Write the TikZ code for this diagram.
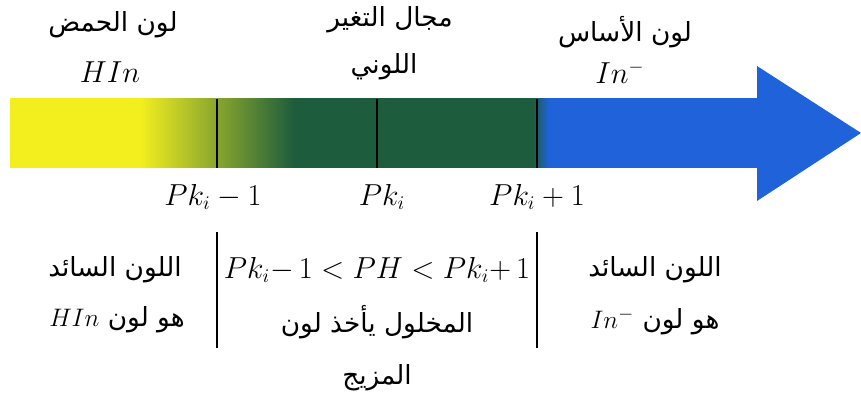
\documentclass[tikz,border=0pt]{standalone}
\usepackage{fontspec}
\usetikzlibrary{positioning}
\TeXXeTstate=1
\newfontfamily\arabicfont[Script=Arabic]{DejaVu Sans}
\definecolor{acidyellow}{HTML}{F3EF1F}
\definecolor{mixgreen}{HTML}{1D5C3C}
\definecolor{baseblue}{HTML}{1F62D9}
\newcommand{\artext}[1]{\beginR #1\endR}
% yellow -> green -> blue along the shaft (path fills 25bp..75bp)
\pgfdeclarehorizontalshading{indicator}{100bp}{
  color(0bp)=(acidyellow); color(33.7bp)=(acidyellow);
  color(44bp)=(mixgreen); color(59.9bp)=(mixgreen);
  color(61bp)=(baseblue); color(100bp)=(baseblue)}

\begin{document}
\begin{tikzpicture}[
    x=0.02cm, y=-0.02cm,
    arlabel/.style={font=\arabicfont\fontsize{15}{18}\selectfont, inner sep=1pt},
    mathlabel/.style={font=\fontsize{16}{18}\selectfont, inner sep=1pt},
    tick/.style={black, line width=0.6pt},
    divider/.style={black, line width=0.7pt},
  ]
  \useasboundingbox (0,0) rectangle (861,405);

  % the arrow, coloured from acid to base
  \shade[shading=indicator] (10,99) rectangle (758,168);
  \fill[baseblue] (757,66) -- (861,133) -- (757,201) -- cycle;

  % marks on the arrow
  \coordinate (lowtop) at (217,99);   \coordinate (lowbot) at (217,168);
  \coordinate (midtop) at (377,99);   \coordinate (midbot) at (377,168);
  \coordinate (hightop) at (537,99);  \coordinate (highbot) at (537,168);
  \draw[tick] (lowtop) -- (lowbot);
  \draw[tick] (midtop) -- (midbot);
  \draw[tick] (hightop) -- (highbot);

  % labels above
  \node[arlabel] (acidname) at (113,25) {\artext{لون الحمض}};
  \node[mathlabel] (acidform) at (110,72) {$HIn$};
  \node[arlabel] (rangename) at (390,20) {\artext{مجال التغير}};
  \node[arlabel] (rangename2) at (384,67) {\artext{اللوني}};
  \node[arlabel] (basename) at (625,32) {\artext{لون الأساس}};
  \node[mathlabel] (baseform) at (620,72) {$In^-$};

  % values under the arrow
  \node[mathlabel] (pklow) at (213,197) {$Pk_i-1$};
  \node[mathlabel] (pkmid) at (382,197) {$Pk_i$};
  \node[mathlabel] (pkhigh) at (537,197) {$Pk_i+1$};

  % the three zones
  \coordinate (divLtop) at (217,232); \coordinate (divLbot) at (217,348);
  \coordinate (divRtop) at (537,232); \coordinate (divRbot) at (537,348);
  \draw[divider] (divLtop) -- (divLbot);
  \draw[divider] (divRtop) -- (divRbot);

  \node[arlabel] (acidzone1) at (115,270) {\artext{اللون السائد}};
  \node[arlabel] (acidzone2) at (117,320) {\artext{هو لون \beginL$HIn$\endL}};
  \node[mathlabel] (midzone1) at (377,270) {$Pk_i{-}\,1<PH<Pk_i{+}\,1$};
  \node[arlabel] (midzone2) at (377,322) {\artext{المخلول يأخذ لون}};
  \node[arlabel] (midzone3) at (377,378) {\artext{المزيج}};
  \node[arlabel] (basezone1) at (655,270) {\artext{اللون السائد}};
  \node[arlabel] (basezone2) at (655,322) {\artext{هو لون \beginL$In^-$\endL}};
\end{tikzpicture}
\end{document}
